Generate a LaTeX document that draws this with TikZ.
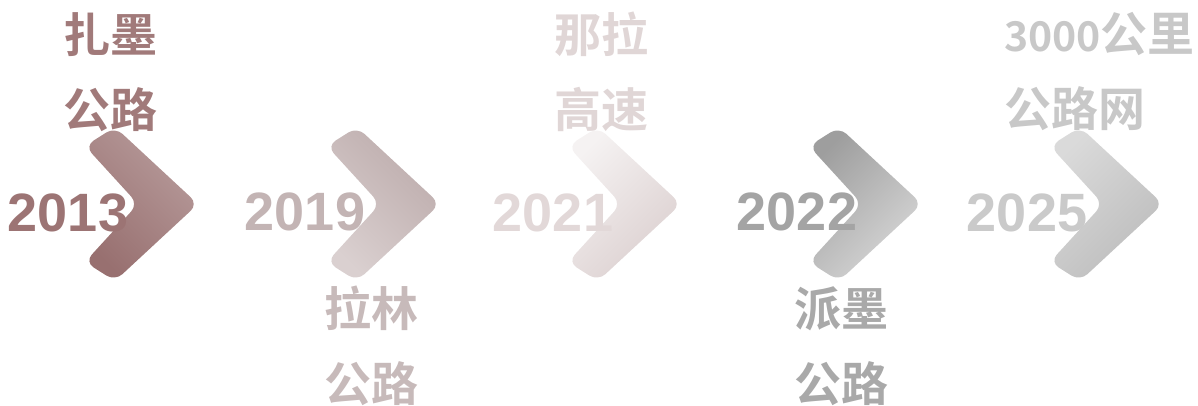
\documentclass[tikz,border=0pt]{standalone}
\usepackage{fontspec}
\setmainfont{Liberation Sans}
\newfontfamily\cjk{Noto Sans CJK SC}[BoldFont={Noto Sans CJK SC Bold}]
\definecolor{cA}{HTML}{9C7474}
\definecolor{cAt}{HTML}{A17A7A}
\definecolor{cB}{HTML}{C3B4B4}
\definecolor{cBt}{HTML}{C7BABA}
\definecolor{cC}{HTML}{E2D8D8}
\definecolor{cCt}{HTML}{E0D6D6}
\definecolor{cD}{HTML}{A4A4A4}
\definecolor{cDt}{HTML}{A9A9A9}
\definecolor{cE}{HTML}{CACACA}
\definecolor{cEt}{HTML}{C8C8C8}
\newcommand\chevshape[3]{\path[#3, shift={(#1,#2)}, rounded corners=10pt]
  (0,-58) -- (30,-77) -- (113,0) -- (30,77) -- (0,58) -- (53,0) -- cycle;}
\tikzset{
  year/.style={font=\bfseries\fontsize{54}{54}\selectfont, inner sep=0pt},
  label/.style={font=\cjk\bfseries\fontsize{47}{75}\selectfont, inner sep=0pt, align=center},
}
\begin{document}
\begin{tikzpicture}[x=1pt,y=-1pt]
\useasboundingbox (0,0) rectangle (1198,405);
% chevrons
\chevshape{85}{204}{top color={rgb,255:red,183;green,155;blue,155}, bottom color={rgb,255:red,152;green,112;blue,112}, shading angle=-45}
\chevshape{327}{204}{top color={rgb,255:red,188;green,171;blue,171}, bottom color={rgb,255:red,218;green,208;blue,208}, shading angle=-45}
\chevshape{568}{204}{top color={rgb,255:red,245;green,242;blue,242}, bottom color={rgb,255:red,219;green,207;blue,207}, shading angle=45}
\chevshape{809}{204}{top color={rgb,255:red,158;green,158;blue,158}, bottom color={rgb,255:red,216;green,216;blue,216}, shading angle=45}
\chevshape{1050}{204}{top color={rgb,255:red,218;green,218;blue,218}, bottom color={rgb,255:red,188;green,188;blue,188}, shading angle=45}
% years
\node[year, text=cA] (y1) at (68,213) {2013};
\node[year, text=cB] (y2) at (305,212) {2019};
\node[year, text=cC] (y3) at (553,213) {2021};
\node[year, text=cD] (y4) at (797,212) {2022};
\node[year, text=cE] (y5) at (1027,213) {2025};
% labels
\node[label, text=cAt] (t1) at (110,72) {扎墨\\公路};
\node[label, text=cBt] (t2) at (371,346) {拉林\\公路};
\node[label, text=cCt] (t3) at (601,72) {那拉\\高速};
\node[label, text=cDt] (t4) at (841,346) {派墨\\公路};
\node[label, text=cEt, align=left, anchor=west] (t5) at (1004,72) {{\fontsize{41}{75}\selectfont 3000}公里\\公路网};
\end{tikzpicture}
\end{document}
